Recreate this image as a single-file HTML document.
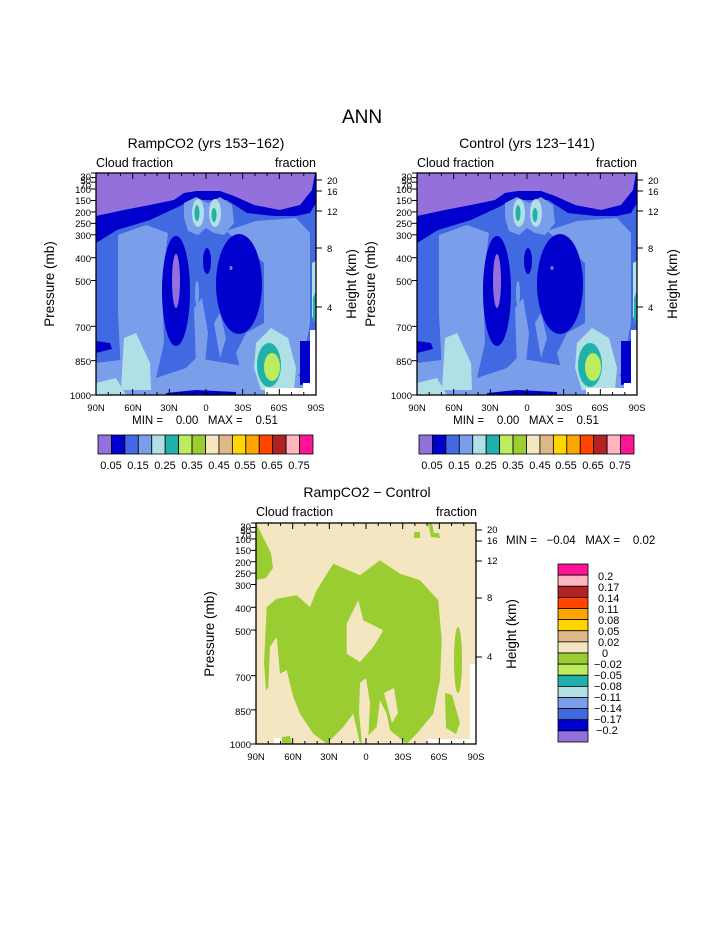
<!DOCTYPE html>
<html><head><meta charset="utf-8">
<style>
html,body{margin:0;padding:0;background:#fff;}
svg{display:block;}
text{font-family:"Liberation Sans",sans-serif;fill:#000;}
</style></head>
<body>
<svg id="s" width="723" height="935" viewBox="0 0 723 935" xmlns="http://www.w3.org/2000/svg">
<defs>
<g id="clim">
  <rect x="0" y="0" width="220" height="222" fill="#4169E1"/>
  <!-- cornflower regions -->
  <path d="M22,62 L50,52 L72,60 L66,110 L68,170 L60,205 L40,217 L25,200 L22,140 Z" fill="#7B9EEB"/>
  <path d="M130,58 L160,48 L200,45 L214,60 L214,150 L205,200 L180,217 L150,217 L140,180 L150,160 L168,150 L168,90 Z" fill="#7B9EEB"/>
  <path d="M0,190 L40,185 L60,205 L90,195 L100,185 L130,190 L160,195 L200,200 L214,214 L214,222 L0,222 Z" fill="#7B9EEB"/>
  <path d="M98,135 L106,125 L112,160 L108,200 L100,195 Z" fill="#7B9EEB"/>
  <path d="M118,150 L124,140 L130,165 L124,185 Z" fill="#7B9EEB"/>
  <ellipse cx="101" cy="120" rx="2" ry="12" fill="#7B9EEB"/>
  <!-- purple top -->
  <path d="M0,0 L219,0 L216,17 L204,32 L184,37 L158,32 L138,23 L124,18 L101,18 L88,20 L78,27 L54,32 L28,37 L0,43 Z" fill="#9370DB"/>
  <!-- dark blue band -->
  <path d="M0,43 L28,37 L54,32 L78,27 L88,20 L101,18 L124,18 L138,23 L158,32 L184,37 L204,32 L216,17 L219,0 L220,0 L220,30 L214,40 L200,43 L178,43 L151,40 L131,27 L94,27 L84,33 L54,47 L21,57 L0,70 Z" fill="#0000CD"/>
  <!-- upper light blobs -->
  <path d="M88,30 L100,24 L112,30 L124,24 L136,32 L138,50 L128,62 L118,60 L110,55 L102,62 L92,58 L88,45 Z" fill="#7B9EEB"/>
  <ellipse cx="102" cy="40" rx="6" ry="14" fill="#B0E0E6"/>
  <ellipse cx="119" cy="40" rx="6" ry="14" fill="#B0E0E6"/>
  <ellipse cx="101" cy="40" rx="2.5" ry="8" fill="#20B2AA"/>
  <ellipse cx="118" cy="42" rx="2.5" ry="7" fill="#20B2AA"/>
  <!-- dark blue ellipses -->
  <ellipse cx="80" cy="118" rx="14" ry="55" fill="#0000CD"/>
  <ellipse cx="143" cy="111" rx="23" ry="50" fill="#0000CD"/>
  <ellipse cx="111" cy="88" rx="4" ry="13" fill="#0000CD"/>
  <ellipse cx="80" cy="108" rx="4" ry="27" fill="#9370DB"/>
  <ellipse cx="135" cy="95" rx="1.5" ry="2" fill="#9370DB"/>
  <!-- south light region -->
  <path d="M28,165 L40,160 L54,190 L55,217 L25,217 Z" fill="#B0E0E6"/>
  <path d="M0,210 L20,205 L30,222 L0,222 Z" fill="#B0E0E6"/>
  <path d="M160,170 L175,155 L192,165 L200,195 L198,217 L165,217 L158,195 Z" fill="#B0E0E6"/>
  <ellipse cx="173" cy="192" rx="12" ry="22" fill="#20B2AA"/>
  <ellipse cx="176" cy="194" rx="8" ry="14" fill="#BDED5F"/>
  <path d="M0,168 L14,170 L16,176 L0,180 Z" fill="#0000CD"/>
  <path d="M204,168 L214,168 L214,210 L204,212 Z" fill="#0000CD"/>
  <path d="M70,220 L100,217 L140,219 L140,222 L70,222 Z" fill="#0000CD"/>
  <path d="M216,90 L220,88 L220,140 L216,145 Z" fill="#B0E0E6"/>
  <path d="M217,125 L220,118 L220,145 L217,150 Z" fill="#20B2AA"/>
  <!-- white missing -->
  <path d="M169,215 L207,215 L207,210 L214,210 L214,157 L220,157 L220,222 L169,222 Z" fill="#fff"/>
</g>
</defs>

<text x="362" y="123" font-size="19" text-anchor="middle" fill="#222">ANN</text>

<!-- panel 1 -->
<text x="206" y="148" font-size="14" text-anchor="middle">RampCO2 (yrs 153−162)</text>
<text x="96" y="167" font-size="12.5">Cloud fraction</text>
<text x="316" y="167" font-size="12.5" text-anchor="end">fraction</text>
<use href="#clim" x="96" y="173"/>
<g id="ax1"></g>
<text x="205" y="424" font-size="11.5" text-anchor="middle" xml:space="preserve">MIN =    0.00   MAX =    0.51</text>

<!-- panel 2 -->
<text x="527" y="148" font-size="14" text-anchor="middle">Control (yrs 123−141)</text>
<text x="417" y="167" font-size="12.5">Cloud fraction</text>
<text x="637" y="167" font-size="12.5" text-anchor="end">fraction</text>
<use href="#clim" x="417" y="173"/>
<text x="526" y="424" font-size="11.5" text-anchor="middle" xml:space="preserve">MIN =    0.00   MAX =    0.51</text>

<!-- panel 3 -->
<text x="367" y="497" font-size="14" text-anchor="middle">RampCO2 − Control</text>
<text x="256" y="516" font-size="12.5">Cloud fraction</text>
<text x="477" y="516" font-size="12.5" text-anchor="end">fraction</text>
<g transform="translate(256,523)">
  <rect x="0" y="0" width="220" height="221" fill="#F5E6C2"/>
  <path d="M10.7,84 L20.7,75.7 L40.7,72.3 L54,84 L60.7,67.3 L77.3,40.7 L104,52.3 L124,37.3 L144,50.7 L164,57.3 L182.3,77.3 L185.7,117.3 L184,157.3 L177.3,190.7 L160.7,210.7 L150.7,220.7 L134,207.3 L130.7,190.7 L124,177.3 L120.7,204 L104,220.7 L97.3,190.7 L87.3,204 L70.7,220.7 L57.3,210.7 L50.7,200.7 L44,190.7 L37.3,174 L30.7,147.3 L24,150.7 L20.7,114 L14,124 L12.3,164 L10,168 L8,140 Z" fill="#9ACD32"/>
  <path d="M90.7,100.7 L102.3,77.3 L107.3,97.3 L127.3,107.3 L117.3,124 L104,139 L90.7,130.7 Z" fill="#F5E6C2"/>
  <path d="M104,160 L110,155 L114,180 L112,221 L106,221 L103,190 Z" fill="#F5E6C2"/>
  <path d="M128,170 L138,165 L142,190 L136,200 Z" fill="#F5E6C2"/>
  <path d="M0,0 L5,10 L15,30 L17,45 L10,55 L0,57 Z" fill="#9ACD32"/>
  <ellipse cx="202" cy="137" rx="4" ry="33" fill="#9ACD32"/>
  <path d="M189,170 L196,172 L204,200 L200,211 L190,205 Z" fill="#9ACD32"/>
  <rect x="158" y="9" width="6" height="6" fill="#9ACD32"/>
  <path d="M172,0 L176,0 L178,10 L183,10 L184,15 L175,14 Z" fill="#9ACD32"/>
  <path d="M26,214 L34,213 L36,221 L26,221 Z" fill="#9ACD32"/>
  <path d="M171,216 L214,216 L214,141 L220,141 L220,221 L171,221 Z" fill="#fff"/>
  <rect x="18" y="215" width="6" height="6" fill="#fff"/>
</g>

<!-- axis labels -->
<text transform="translate(54,284) rotate(-90)" font-size="13.5" text-anchor="middle">Pressure (mb)</text>
<text transform="translate(356,284) rotate(-90)" font-size="13.5" text-anchor="middle">Height (km)</text>
<text transform="translate(375,284) rotate(-90)" font-size="13.5" text-anchor="middle">Pressure (mb)</text>
<text transform="translate(677,284) rotate(-90)" font-size="13.5" text-anchor="middle">Height (km)</text>
<text transform="translate(214,634) rotate(-90)" font-size="13.5" text-anchor="middle">Pressure (mb)</text>
<text transform="translate(516,634) rotate(-90)" font-size="13.5" text-anchor="middle">Height (km)</text>

<g id="labels" font-size="9.5"></g>

<!-- Top colorbars -->
<g id="cb1"></g>

<text x="506" y="544" font-size="11.5" xml:space="preserve">MIN =   −0.04   MAX =    0.02</text>
<g id="cb3"></g>
<g font-size="11">
<text x="598" y="580">0.2</text>
<text x="598" y="591">0.17</text>
<text x="598" y="602">0.14</text>
<text x="598" y="613">0.11</text>
<text x="598" y="624">0.08</text>
<text x="598" y="635">0.05</text>
<text x="598" y="646">0.02</text>
<text x="602" y="657">0</text>
<text x="594" y="668">−0.02</text>
<text x="594" y="679">−0.05</text>
<text x="594" y="690">−0.08</text>
<text x="594" y="701">−0.11</text>
<text x="594" y="712">−0.14</text>
<text x="594" y="723">−0.17</text>
<text x="596" y="734">−0.2</text>
</g>

<!-- colorbar labels top -->
<g font-size="11" text-anchor="middle">
<text x="111" y="469">0.05</text><text x="138" y="469">0.15</text><text x="165" y="469">0.25</text><text x="192" y="469">0.35</text><text x="219" y="469">0.45</text><text x="245" y="469">0.55</text><text x="272" y="469">0.65</text><text x="299" y="469">0.75</text>
<text x="432" y="469">0.05</text><text x="459" y="469">0.15</text><text x="486" y="469">0.25</text><text x="513" y="469">0.35</text><text x="540" y="469">0.45</text><text x="566" y="469">0.55</text><text x="593" y="469">0.65</text><text x="620" y="469">0.75</text>
</g>

<!-- tick labels (static text) -->
<g font-size="9.5" text-anchor="end">
<text x="91" y="180">30</text><text x="91" y="184">50</text><text x="91" y="189">70</text><text x="91" y="193">100</text><text x="91" y="204">150</text><text x="91" y="216">200</text><text x="91" y="227">250</text><text x="91" y="239">300</text><text x="91" y="262">400</text><text x="91" y="285">500</text><text x="91" y="331">700</text><text x="91" y="365">850</text><text x="91" y="399">1000</text>
<text x="412" y="180">30</text><text x="412" y="184">50</text><text x="412" y="189">70</text><text x="412" y="193">100</text><text x="412" y="204">150</text><text x="412" y="216">200</text><text x="412" y="227">250</text><text x="412" y="239">300</text><text x="412" y="262">400</text><text x="412" y="285">500</text><text x="412" y="331">700</text><text x="412" y="365">850</text><text x="412" y="399">1000</text>
<text x="251" y="530">30</text><text x="251" y="534">50</text><text x="251" y="539">70</text><text x="251" y="543">100</text><text x="251" y="554">150</text><text x="251" y="566">200</text><text x="251" y="577">250</text><text x="251" y="589">300</text><text x="251" y="612">400</text><text x="251" y="635">500</text><text x="251" y="681">700</text><text x="251" y="715">850</text><text x="251" y="748">1000</text>
</g>
<g font-size="9.5">
<text x="327" y="184">20</text><text x="327" y="195">16</text><text x="327" y="215">12</text><text x="327" y="252">8</text><text x="327" y="311">4</text>
<text x="648" y="184">20</text><text x="648" y="195">16</text><text x="648" y="215">12</text><text x="648" y="252">8</text><text x="648" y="311">4</text>
<text x="487" y="533">20</text><text x="487" y="544">16</text><text x="487" y="564">12</text><text x="487" y="601">8</text><text x="487" y="660">4</text>
</g>
<g font-size="9.5" text-anchor="middle">
<text x="96" y="411">90N</text><text x="133" y="411">60N</text><text x="169" y="411">30N</text><text x="206" y="411">0</text><text x="243" y="411">30S</text><text x="279" y="411">60S</text><text x="316" y="411">90S</text>
<text x="417" y="411">90N</text><text x="454" y="411">60N</text><text x="490" y="411">30N</text><text x="527" y="411">0</text><text x="564" y="411">30S</text><text x="600" y="411">60S</text><text x="637" y="411">90S</text>
<text x="256" y="760">90N</text><text x="293" y="760">60N</text><text x="329" y="760">30N</text><text x="366" y="760">0</text><text x="403" y="760">30S</text><text x="439" y="760">60S</text><text x="476" y="760">90S</text>
</g>
</svg>
<script>
(function(){
var NS="http://www.w3.org/2000/svg", s=document.getElementById("s");
function el(t,a){var e=document.createElementNS(NS,t);for(var k in a)e.setAttribute(k,a[k]);s.appendChild(e);return e;}
function line(x1,y1,x2,y2,w){el("line",{x1:x1,y1:y1,x2:x2,y2:y2,stroke:"#000","stroke-width":w||1});}
var P=[30,50,70,100,150,200,250,300,400,500,700,850,1000];
var H=[7,18,38,75,134];
function axes(x0,y0,h){
  el("rect",{x:x0,y:y0,width:220,height:h,fill:"none",stroke:"#000","stroke-width":1.3});
  for(var i=0;i<=18;i++){var x=x0+i*220/18,L=(i%3==0)?6:3;
    line(x,y0+h,x,y0+h-L);line(x,y0,x,y0+L);}
  P.forEach(function(p){var y=y0+(p-30)/970*h;line(x0-5,y,x0,y);});
  H.forEach(function(d){var y=y0+d;line(x0+220,y,x0+226,y);});
}
axes(96,173,222);axes(417,173,222);axes(256,523,221);
var C=["#9370DB","#0000CD","#4169E1","#7B9EEB","#B0E0E6","#20B2AA","#BDED5F","#9ACD32","#F5E6C2","#DEB887","#FFD700","#FFA500","#FF4500","#B22222","#FFB6C1","#FF1493"];
[98,419].forEach(function(x0){var w=215/16;
  C.forEach(function(c,i){el("rect",{x:x0+i*w,y:435,width:w,height:19,fill:c,stroke:"#000","stroke-width":0.8});});});
var n=16,h=178/16;
for(var i=0;i<16;i++){el("rect",{x:558,y:564+i*h,width:30,height:h,fill:C[15-i],stroke:"#000","stroke-width":0.8});}
})();
</script>
</body></html>
